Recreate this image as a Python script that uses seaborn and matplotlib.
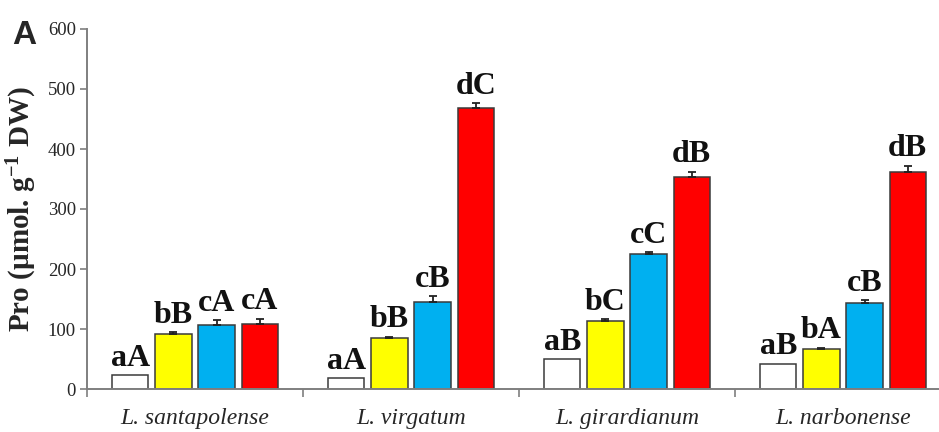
import numpy as np
import pandas as pd
import matplotlib
matplotlib.use("Agg")
import matplotlib.pyplot as plt
import seaborn as sns

# Proline content per species and treatment level
species = ["L. santapolense", "L. virgatum", "L. girardianum", "L. narbonense"]
treatments = ["T0", "T1", "T2", "T3"]
pro_t0 = [23, 18, 50, 42]
pro_t1 = [92, 85, 113, 67]
pro_t2 = [107, 145, 225, 143]
pro_t3 = [108, 468, 353, 362]
err_t0 = [0, 0, 0, 0]
err_t1 = [3, 2, 3, 2]
err_t2 = [8, 10, 3, 5]
err_t3 = [9, 8, 9, 10]
letters_t0 = ["aA", "aA", "aB", "aB"]
letters_t1 = ["bB", "bB", "bC", "bA"]
letters_t2 = ["cA", "cB", "cC", "cB"]
letters_t3 = ["cA", "dC", "dB", "dB"]
bar_colors = ["#FFFFFF", "#FFFF00", "#00B0F0", "#FF0000"]

values = [pro_t0, pro_t1, pro_t2, pro_t3]
errors = [err_t0, err_t1, err_t2, err_t3]
letters = [letters_t0, letters_t1, letters_t2, letters_t3]

df = pd.DataFrame({
    "species": np.repeat(species, len(treatments)),
    "treatment": treatments * len(species),
    "pro": [values[t][s] for s in range(len(species)) for t in range(len(treatments))],
})

sns.set_style("white")
plt.rcParams["font.family"] = ["Liberation Serif", "DejaVu Serif"]
plt.rcParams["mathtext.fontset"] = "custom"
plt.rcParams["mathtext.rm"] = "Liberation Serif:bold"
plt.rcParams["mathtext.bf"] = "Liberation Serif:bold"
plt.rcParams["mathtext.default"] = "bf"

fig = plt.figure(figsize=(9.39, 4.32), dpi=100)
ax = fig.add_axes([87 / 939, 43 / 432, 864 / 939, 360 / 432])

sns.barplot(data=df, x="species", y="pro", hue="treatment",
            order=species, hue_order=treatments, palette=bar_colors,
            saturation=1, width=0.8, gap=0.16, edgecolor="#3a3a3a",
            linewidth=1.1, legend=False, ax=ax, errorbar=None)

grey = "#7f7f7f"
bar_groups = list(ax.containers)
for t, cont in enumerate(bar_groups):
    xs = [p.get_x() + p.get_width() / 2 for p in cont.patches]
    ys = np.array(values[t], dtype=float)
    es = np.array(errors[t], dtype=float)
    if es.any():
        ax.errorbar(xs, ys, yerr=[np.zeros_like(es), es], fmt="none",
                    ecolor="#222222", elinewidth=1.3, capsize=3, capthick=1.3, zorder=3)
    for x, y, e, lab in zip(xs, ys, es, letters[t]):
        ax.text(x, y + e + 4, lab, ha="center", va="bottom", fontsize=23,
                fontweight="bold", color="#111111")

ax.set_ylim(0, 600)
ax.set_xlim(-0.5, 3.5)
ax.set_yticks(range(0, 601, 100))
ax.tick_params(axis="y", direction="out", length=5, width=1.2, color=grey,
               labelsize=13.5, pad=3, left=True)

# group boundaries carry the tick marks, species names sit between them
ax.set_xticks([0, 1, 2, 3])
ax.set_xticklabels(species, fontstyle="italic", fontsize=17)
ax.tick_params(axis="x", length=0, pad=14)
ax.set_xticks([-0.5, 0.5, 1.5, 2.5, 3.5], minor=True)
ax.tick_params(axis="x", which="minor", direction="out", length=6, width=1.2,
               color=grey, bottom=True)

for side in ["top", "right"]:
    ax.spines[side].set_visible(False)
for side in ["left", "bottom"]:
    ax.spines[side].set_color(grey)
    ax.spines[side].set_linewidth(1.4)

ax.set_xlabel("")
ax.set_ylabel(r"Pro (µmol. g$^{-1}$ DW)", fontsize=21, fontweight="bold",
              labelpad=6)

fig.text(12 / 939, 1 - 44 / 432, "A", fontsize=24, fontweight="bold",
         family=["Liberation Sans", "DejaVu Sans"], ha="left", va="baseline")

fig.savefig("out.png", dpi=100, facecolor="white")
